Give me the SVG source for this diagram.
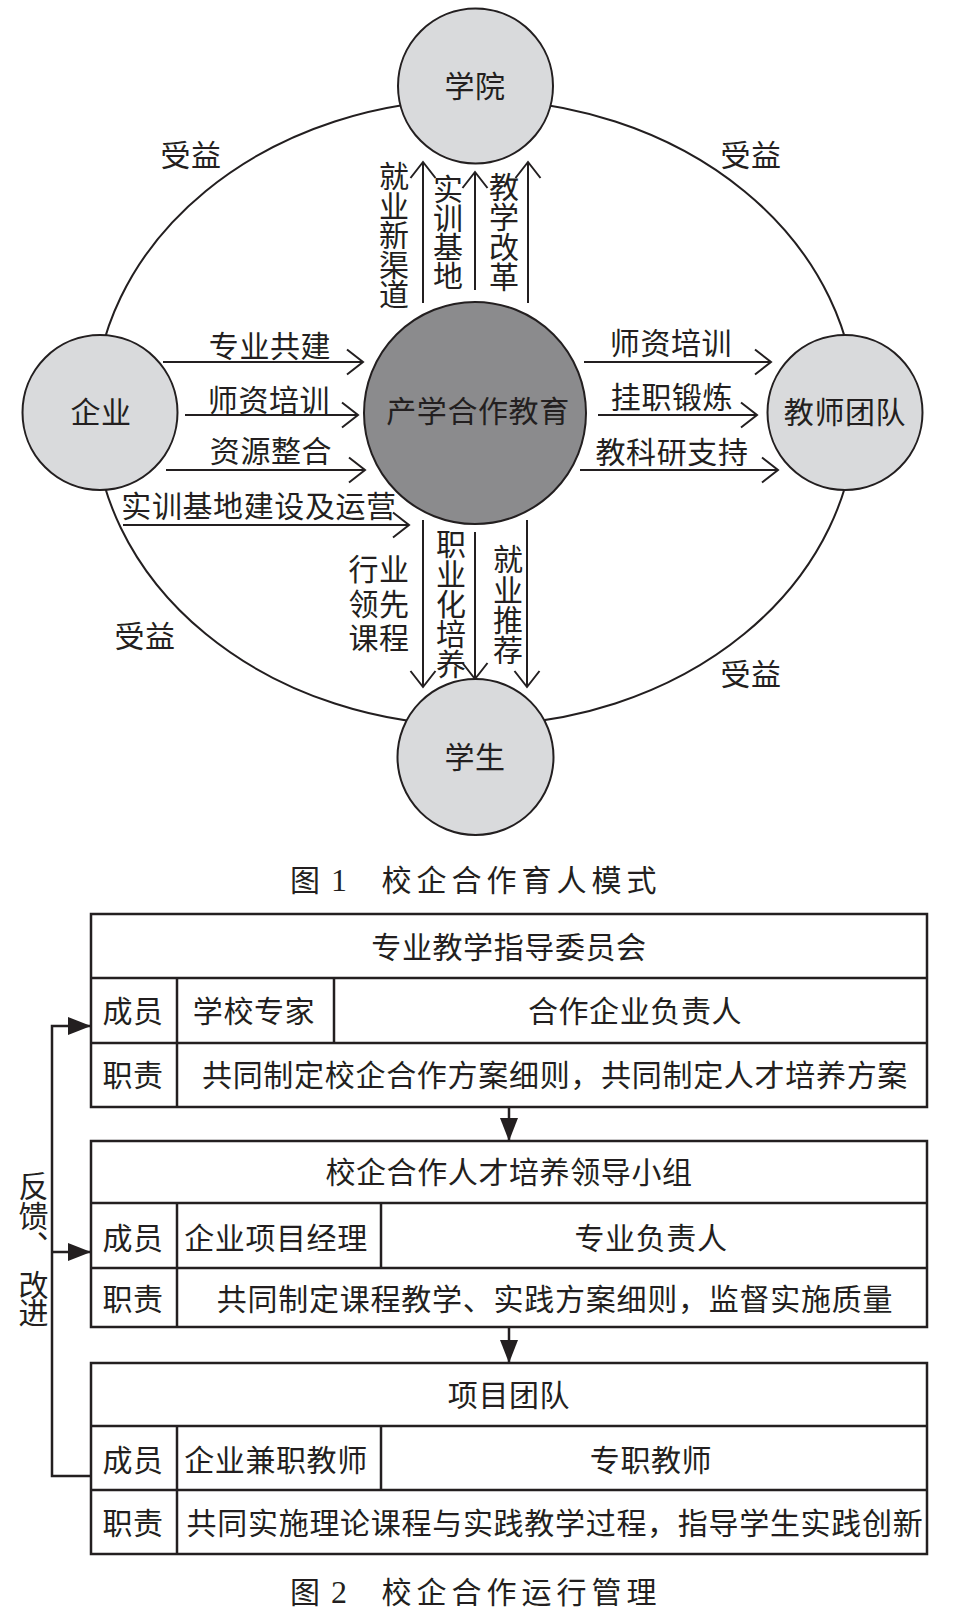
<svg xmlns="http://www.w3.org/2000/svg" width="956" height="1616" viewBox="0 0 956 1616">
<style>
.t{font-family:"Noto Sans CJK SC","Noto Sans",sans-serif;font-size:30px;fill:#231f20;letter-spacing:0.6px}
.m{text-anchor:middle}
.v{font-family:"Noto Sans CJK SC","Noto Sans",sans-serif;font-size:30px;fill:#231f20;writing-mode:vertical-rl;text-anchor:start}
.ln{stroke:#231f20;stroke-width:2;fill:none}
.tb{stroke:#231f20;stroke-width:2.5;fill:none}
.outer{fill:#d9dadc;stroke:#231f20;stroke-width:2}
.core{fill:#8b8b8d;stroke:#231f20;stroke-width:2}
.cap{font-family:"Noto Sans CJK SC","Noto Sans",sans-serif;font-size:30px;fill:#231f20}
.num{font-family:"Liberation Serif",serif;font-size:32px;fill:#231f20}
</style>
<defs>
<marker id="open" viewBox="-18 -15 20 30" refX="0" refY="0" markerWidth="20" markerHeight="30" markerUnits="userSpaceOnUse" orient="auto">
<path d="M-16,-12.5 L0,0 L-16,12.5" fill="none" stroke="#231f20" stroke-width="2"/>
</marker>
<marker id="solid" viewBox="-24 -10 25 20" refX="0" refY="0" markerWidth="25" markerHeight="20" markerUnits="userSpaceOnUse" orient="auto">
<path d="M-23,-9 L0,0 L-23,9 Z" fill="#231f20"/>
</marker>
</defs>
<rect width="956" height="1616" fill="#ffffff"/>

<g id="benefit-ellipse">
<ellipse cx="475" cy="412.5" rx="381" ry="313" class="ln"/>
<text class="t m" x="191" y="166">受益</text>
<text class="t m" x="751" y="166">受益</text>
<text class="t m" x="145" y="647">受益</text>
<text class="t m" x="751" y="685">受益</text>
</g>

<g id="connectors">
<line x1="163" y1="362" x2="363" y2="362" class="ln" marker-end="url(#open)"/>
<line x1="185" y1="415" x2="358" y2="415" class="ln" marker-end="url(#open)"/>
<line x1="166" y1="470" x2="365" y2="470" class="ln" marker-end="url(#open)"/>
<line x1="123" y1="525" x2="409" y2="525" class="ln" marker-end="url(#open)"/>
<text class="t m" x="270" y="357">专业共建</text>
<text class="t m" x="269" y="411">师资培训</text>
<text class="t m" x="271" y="462">资源整合</text>
<text class="t m" x="259" y="517">实训基地建设及运营</text>
<line x1="584" y1="362" x2="771" y2="362" class="ln" marker-end="url(#open)"/>
<line x1="598" y1="415" x2="757" y2="415" class="ln" marker-end="url(#open)"/>
<line x1="580" y1="470" x2="778" y2="470" class="ln" marker-end="url(#open)"/>
<text class="t m" x="671" y="354">师资培训</text>
<text class="t m" x="672" y="408">挂职锻炼</text>
<text class="t m" x="672" y="463">教科研支持</text>
<line x1="423" y1="303" x2="423" y2="162" class="ln" marker-end="url(#open)"/>
<line x1="475" y1="290" x2="475" y2="172" class="ln" marker-end="url(#open)"/>
<line x1="528" y1="303" x2="528" y2="162" class="ln" marker-end="url(#open)"/>
<text class="v" x="394" y="161" style="letter-spacing:-0.5px">就业新渠道</text>
<text class="v" x="448" y="174" style="letter-spacing:-1.3px">实训基地</text>
<text class="v" x="504" y="172">教学改革</text>
<line x1="423" y1="520" x2="423" y2="687" class="ln" marker-end="url(#open)"/>
<line x1="475" y1="532" x2="475" y2="679" class="ln" marker-end="url(#open)"/>
<line x1="527" y1="520" x2="527" y2="687" class="ln" marker-end="url(#open)"/>
<text class="t m"><tspan x="379" y="580">行业</tspan><tspan x="379" y="615">领先</tspan><tspan x="379" y="649">课程</tspan></text>
<text class="v" x="451" y="529">职业化培养</text>
<text class="v" x="508" y="544" style="letter-spacing:0.3px">就业推荐</text>
</g>

<g id="node-xueyuan">
<circle cx="475.5" cy="86" r="77.5" class="outer"/>
<text class="t m" x="475" y="97">学院</text>
</g>
<g id="node-qiye">
<circle cx="100" cy="412.5" r="77.5" class="outer"/>
<text class="t m" x="101" y="423">企业</text>
</g>
<g id="node-jiaoshi">
<circle cx="845" cy="412.5" r="77.5" class="outer"/>
<text class="t m" x="845" y="423">教师团队</text>
</g>
<g id="node-xuesheng">
<circle cx="475.5" cy="757" r="78" class="outer"/>
<text class="t m" x="475" y="768">学生</text>
</g>
<g id="node-core">
<circle cx="475" cy="413" r="111" class="core"/>
<text class="t m" x="478" y="422">产学合作教育</text>
</g>

<g id="caption-1">
<text class="cap" x="290" y="891">图</text>
<text class="num" x="331" y="891">1</text>
<text class="cap" x="381.5" y="891" style="letter-spacing:5px">校企合作育人模式</text>
</g>

<g id="table-1">
<rect x="91" y="914" width="836" height="193" class="tb"/>
<line x1="91" y1="978" x2="927" y2="978" class="tb"/>
<line x1="91" y1="1043" x2="927" y2="1043" class="tb"/>
<line x1="177" y1="978" x2="177" y2="1107" class="tb"/>
<line x1="334" y1="978" x2="334" y2="1043" class="tb"/>
<text class="t m" x="509" y="958">专业教学指导委员会</text>
<text class="t m" x="133" y="1022">成员</text>
<text class="t m" x="254" y="1022">学校专家</text>
<text class="t m" x="635" y="1022">合作企业负责人</text>
<text class="t m" x="133" y="1086">职责</text>
<text class="t m" x="555" y="1086" style="letter-spacing:0.7px">共同制定校企合作方案细则，共同制定人才培养方案</text>
</g>

<g id="table-2">
<rect x="91" y="1141" width="836" height="186" class="tb"/>
<line x1="91" y1="1203" x2="927" y2="1203" class="tb"/>
<line x1="91" y1="1268" x2="927" y2="1268" class="tb"/>
<line x1="177" y1="1203" x2="177" y2="1327" class="tb"/>
<line x1="381" y1="1203" x2="381" y2="1268" class="tb"/>
<text class="t m" x="509" y="1183">校企合作人才培养领导小组</text>
<text class="t m" x="133" y="1249">成员</text>
<text class="t m" x="276" y="1249">企业项目经理</text>
<text class="t m" x="651" y="1249">专业负责人</text>
<text class="t m" x="133" y="1310">职责</text>
<text class="t m" x="555" y="1310" style="letter-spacing:0.76px">共同制定课程教学、实践方案细则，监督实施质量</text>
</g>

<g id="table-3">
<rect x="91" y="1363" width="836" height="191" class="tb"/>
<line x1="91" y1="1426" x2="927" y2="1426" class="tb"/>
<line x1="91" y1="1490" x2="927" y2="1490" class="tb"/>
<line x1="177" y1="1426" x2="177" y2="1554" class="tb"/>
<line x1="381" y1="1426" x2="381" y2="1490" class="tb"/>
<text class="t m" x="509" y="1406">项目团队</text>
<text class="t m" x="133" y="1471">成员</text>
<text class="t m" x="276" y="1471">企业兼职教师</text>
<text class="t m" x="651" y="1471">专职教师</text>
<text class="t m" x="133" y="1534">职责</text>
<text class="t m" x="555" y="1534" style="letter-spacing:0.7px">共同实施理论课程与实践教学过程，指导学生实践创新</text>
</g>

<g id="flow-connectors">
<line x1="509" y1="1107" x2="509" y2="1141" class="tb" marker-end="url(#solid)"/>
<line x1="509" y1="1327" x2="509" y2="1363" class="tb" marker-end="url(#solid)"/>
<polyline points="91,1476 52,1476 52,1026 91,1026" class="tb" marker-end="url(#solid)"/>
<line x1="52" y1="1252" x2="91" y2="1252" class="tb" marker-end="url(#solid)"/>
<text class="v" x="33.5" y="1171">反馈、</text>
<text class="v" x="33.5" y="1270" style="letter-spacing:-2px">改进</text>
</g>

<g id="caption-2">
<text class="cap" x="290" y="1603">图</text>
<text class="num" x="331" y="1603">2</text>
<text class="cap" x="381.5" y="1603" style="letter-spacing:5px">校企合作运行管理</text>
</g>
</svg>
